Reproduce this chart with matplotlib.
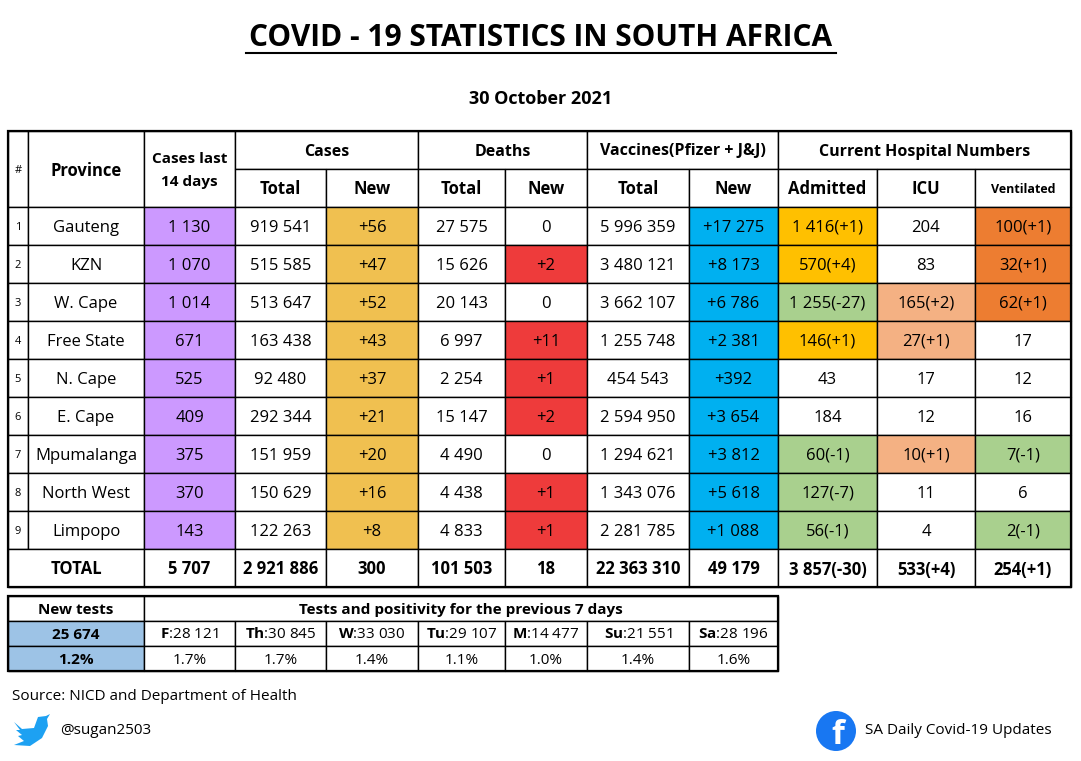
import matplotlib
matplotlib.use("Agg")
import matplotlib.pyplot as plt
from matplotlib.patches import Rectangle, Circle, Polygon

plt.rcParams['font.family'] = ['Open Sans', 'DejaVu Sans']
plt.rcParams['mathtext.fontset'] = 'custom'
plt.rcParams['mathtext.rm'] = 'Open Sans'
plt.rcParams['mathtext.bf'] = 'Open Sans:bold'

provinces = ["Gauteng", "KZN", "W. Cape", "Free State", "N. Cape", "E. Cape", "Mpumalanga", "North West", "Limpopo"]
cases14 = ["1 130", "1 070", "1 014", "671", "525", "409", "375", "370", "143"]
cases_total = ["919 541", "515 585", "513 647", "163 438", "92 480", "292 344", "151 959", "150 629", "122 263"]
cases_new = ["+56", "+47", "+52", "+43", "+37", "+21", "+20", "+16", "+8"]
deaths_total = ["27 575", "15 626", "20 143", "6 997", "2 254", "15 147", "4 490", "4 438", "4 833"]
deaths_new = ["0", "+2", "0", "+11", "+1", "+2", "0", "+1", "+1"]
vacc_total = ["5 996 359", "3 480 121", "3 662 107", "1 255 748", "454 543", "2 594 950", "1 294 621", "1 343 076", "2 281 785"]
vacc_new = ["+17 275", "+8 173", "+6 786", "+2 381", "+392", "+3 654", "+3 812", "+5 618", "+1 088"]
admitted = ["1 416(+1)", "570(+4)", "1 255(-27)", "146(+1)", "43", "184", "60(-1)", "127(-7)", "56(-1)"]
icu = ["204", "83", "165(+2)", "27(+1)", "17", "12", "10(+1)", "11", "4"]
ventilated = ["100(+1)", "32(+1)", "62(+1)", "17", "12", "16", "7(-1)", "6", "2(-1)"]
totals = ["TOTAL", "5 707", "2 921 886", "300", "101 503", "18", "22 363 310", "49 179", "3 857(-30)", "533(+4)", "254(+1)"]
test_days = ["F", "Th", "W", "Tu", "M", "Su", "Sa"]
test_counts = ["28 121", "30 845", "33 030", "29 107", "14 477", "21 551", "28 196"]
test_pos = ["1.7%", "1.7%", "1.4%", "1.1%", "1.0%", "1.4%", "1.6%"]
new_tests = "25 674"
new_pos = "1.2%"

PUR, YEL, RED, BLU = "#cc99ff", "#f0c050", "#ee3b3b", "#00b0f0"
ORA, GRN, SAL, DOR, W = "#ffc000", "#a9d08e", "#f4b183", "#ed7d31", "white"
adm_col = [ORA, ORA, GRN, ORA, W, W, GRN, GRN, GRN]
icu_col = [W, W, SAL, SAL, W, W, SAL, W, W]
ven_col = [DOR, DOR, DOR, W, W, W, GRN, W, GRN]
dn_col = [W if v == "0" else RED for v in deaths_new]

fig = plt.figure(figsize=(10.81, 7.61), dpi=100)
ax = fig.add_axes([0, 0, 1, 1])
ax.set_xlim(0, 1081); ax.set_ylim(761, 0); ax.axis('off')

xs = [8, 28, 144, 235, 326, 418, 505, 587, 689, 778, 877, 975, 1071]
ys = [207 + 38 * i for i in range(11)]

def cell(x0, x1, y0, y1, txt, fc=W, bold=False, fs=12, lw=1):
    ax.add_patch(Rectangle((x0, y0), x1 - x0, y1 - y0, fc=fc, ec="black", lw=lw))
    ax.text((x0 + x1) / 2, (y0 + y1) / 2 + 1.5, txt, ha='center', va='center',
            fontsize=fs, fontweight='bold' if bold else 'normal')

ax.text(541, 38, "COVID - 19 STATISTICS IN SOUTH AFRICA", ha='center', va='center', fontsize=21.5, fontweight='bold')
ax.plot([246, 836], [53, 53], color='black', lw=1.5)
ax.text(541, 99, "30 October 2021", ha='center', va='center', fontsize=13, fontweight='bold')

# header
cell(8, 28, 131, 207, "#", fs=8)
cell(28, 144, 131, 207, "Province", bold=True)
cell(144, 235, 131, 207, "Cases last\n14 days", bold=True, fs=11)
ax.texts[-1].set_linespacing(1.9)
for (a, b, t) in [(235, 418, "Cases"), (418, 587, "Deaths"), (587, 778, "Vaccines(Pfizer + J&J)"), (778, 1071, "Current Hospital Numbers")]:
    cell(a, b, 131, 169, t, bold=True, fs=11.5)
subs = ["Total", "New", "Total", "New", "Total", "New", "Admitted", "ICU", "Ventilated"]
for i, s in enumerate(subs):
    cell(xs[i + 3], xs[i + 4], 169, 207, s, bold=True, fs=9 if s == "Ventilated" else 12)

for r in range(9):
    y0, y1 = ys[r], ys[r + 1]
    vals = [str(r + 1), provinces[r], cases14[r], cases_total[r], cases_new[r], deaths_total[r],
            deaths_new[r], vacc_total[r], vacc_new[r], admitted[r], icu[r], ventilated[r]]
    cols = [W, W, PUR, W, YEL, W, dn_col[r], W, BLU, adm_col[r], icu_col[r], ven_col[r]]
    for c in range(12):
        cell(xs[c], xs[c + 1], y0, y1, vals[c], fc=cols[c], fs=8 if c == 0 else 12)

cell(8, 144, ys[9], ys[10], totals[0], bold=True)
for c in range(1, 11):
    cell(xs[c + 1], xs[c + 2], ys[9], ys[10], totals[c], bold=True)
ax.add_patch(Rectangle((8, 131), 1063, ys[10] - 131, fc='none', ec='black', lw=1.6))

# tests table
tx = [8, 144, 235, 326, 418, 505, 587, 689, 778]
ty = [596, 621, 646, 671]
cell(8, 144, ty[0], ty[1], "New tests", bold=True, fs=11)
cell(144, 778, ty[0], ty[1], "Tests and positivity for the previous 7 days", bold=True, fs=11)
cell(8, 144, ty[1], ty[2], new_tests, fc="#9dc3e6", bold=True, fs=11)
cell(8, 144, ty[2], ty[3], new_pos, fc="#9dc3e6", bold=True, fs=11)
for i in range(7):
    cell(tx[i + 1], tx[i + 2], ty[1], ty[2], "", fs=11)
    ax.text((tx[i + 1] + tx[i + 2]) / 2, (ty[1] + ty[2]) / 2 + 1.5,
            r"$\mathbf{" + test_days[i] + r"}$" + ":" + test_counts[i], ha='center', va='center', fontsize=11)
    cell(tx[i + 1], tx[i + 2], ty[2], ty[3], test_pos[i], fs=11)
ax.add_patch(Rectangle((8, 596), 770, 75, fc='none', ec='black', lw=1.6))

ax.text(12, 697, "Source: NICD and Department of Health", ha='left', va='center', fontsize=11)
# twitter bird (simplified)
ax.add_patch(Polygon([(14, 722), (22, 729), (34, 728), (38, 717), (46, 716), (50, 714), (47, 719),
                      (48, 726), (42, 738), (30, 746), (14, 745), (24, 741), (18, 736), (22, 735),
                      (16, 730), (20, 730)], closed=True, fc="#1da1f2", ec='none'))
ax.text(60, 731, "@sugan2503", ha='left', va='center', fontsize=11)
ax.add_patch(Circle((836, 731), 20, fc="#1877f2", ec='none'))
ax.text(838, 736, "f", ha='center', va='center', fontsize=24, fontweight='bold', color='white')
ax.text(865, 731, "SA Daily Covid-19 Updates", ha='left', va='center', fontsize=11)

fig.savefig("out.png", dpi=100)
